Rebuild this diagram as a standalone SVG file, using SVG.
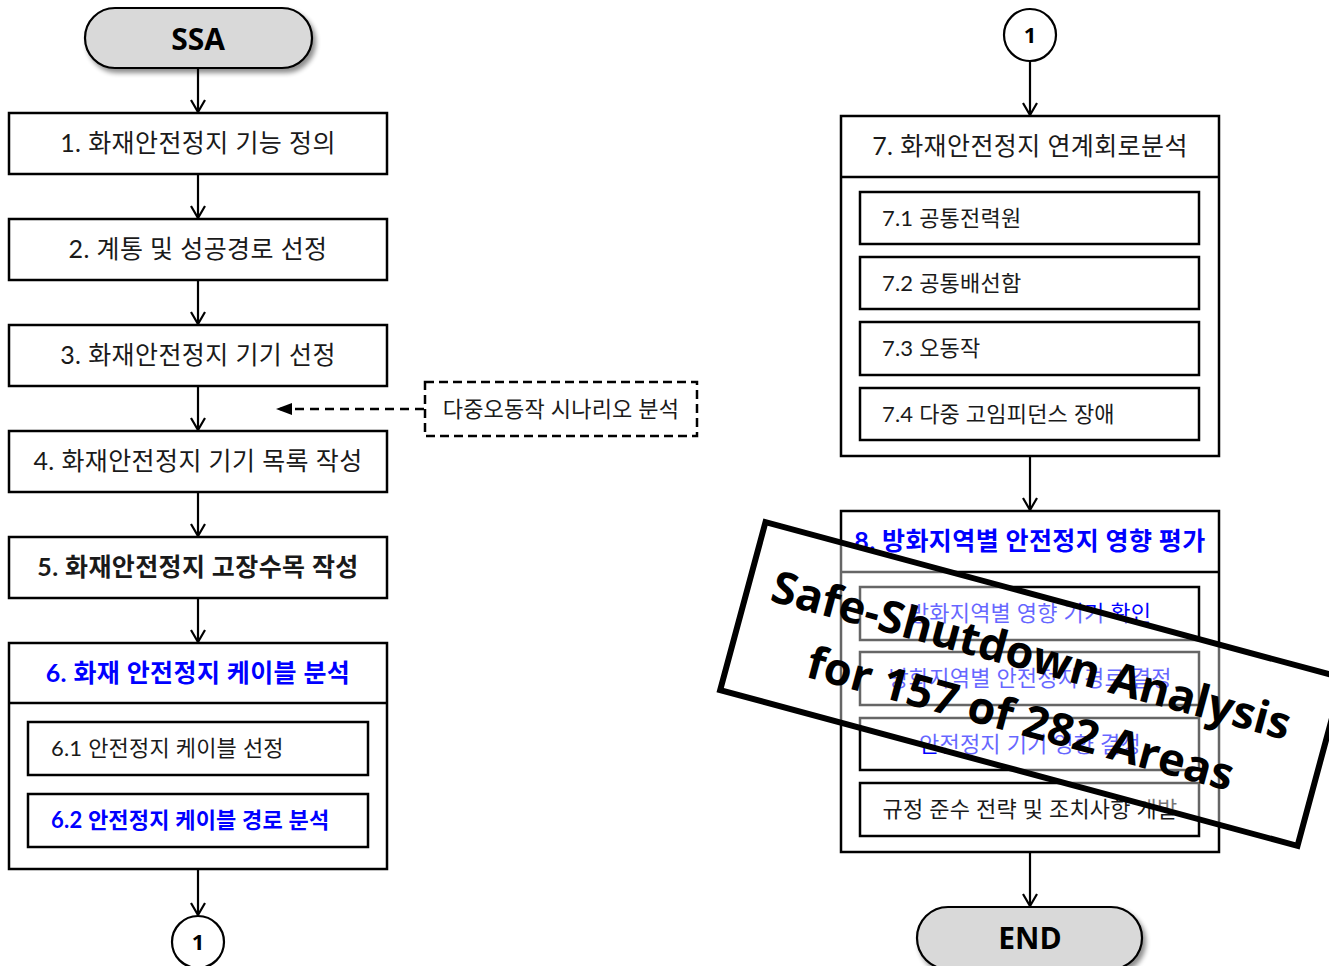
<svg xmlns="http://www.w3.org/2000/svg" width="1329" height="966" viewBox="0 0 1329 966">
<defs>
<marker id="ah" markerUnits="userSpaceOnUse" markerWidth="16" markerHeight="16" refX="8" refY="15" orient="0" viewBox="0 0 16 16">
<path d="M1,3 L8,15 L15,3" fill="none" stroke="#000" stroke-width="2.2"/>
</marker>
<marker id="tri" markerUnits="userSpaceOnUse" markerWidth="16" markerHeight="14" refX="1" refY="7" orient="0" viewBox="0 0 16 14">
<path d="M0,7 L16,1 L16,13 Z" fill="#000"/>
</marker>
<filter id="sh" x="-20%" y="-30%" width="150%" height="180%">
<feGaussianBlur in="SourceAlpha" stdDeviation="2.5"/>
<feOffset dx="3" dy="4" result="b"/>
<feComponentTransfer><feFuncA type="linear" slope="0.45"/></feComponentTransfer>
<feMerge><feMergeNode/><feMergeNode in="SourceGraphic"/></feMerge>
</filter>
</defs>
<style>
.box{fill:#fff;stroke:#000;stroke-width:2.5}
.pill{fill:#d9d9d9;stroke:#000;stroke-width:2.2}
.t{font-family:Lato,"Noto Sans CJK KR",sans-serif;fill:#1a1a1a}
.big{font-size:25px;letter-spacing:0.4px}
.sm{font-size:22px;letter-spacing:0.2px}
.b{font-weight:bold}
.blue{fill:#0000ff}
.c{text-anchor:middle}
.hv{font-family:"Open Sans",sans-serif;font-weight:bold;fill:#000;text-anchor:middle}
.con{stroke:#000;stroke-width:2.2;fill:none}
.stamp{font-family:"Open Sans",sans-serif;font-weight:bold;font-size:45px;fill:#000;text-anchor:middle}
</style>

<g id="ssa">
<rect class="pill" x="85" y="8" width="227" height="60" rx="30" filter="url(#sh)"/>
<text class="hv" x="198" y="50" font-size="30">SSA</text>
</g>
<g id="n1"><rect class="box" x="9" y="113" width="378" height="61"/><text class="t big c" x="198" y="152">1. 화재안전정지 기능 정의</text></g>
<g id="n2"><rect class="box" x="9" y="219" width="378" height="61"/><text class="t big c" x="198" y="258">2. 계통 및 성공경로 선정</text></g>
<g id="n3"><rect class="box" x="9" y="325" width="378" height="61"/><text class="t big c" x="198" y="364">3. 화재안전정지 기기 선정</text></g>
<g id="n4"><rect class="box" x="9" y="431" width="378" height="61"/><text class="t big c" x="198" y="470">4. 화재안전정지 기기 목록 작성</text></g>
<g id="n5"><rect class="box" x="9" y="537" width="378" height="61"/><text class="t big b c" x="198" y="576">5. 화재안전정지 고장수목 작성</text></g>
<g id="n6">
<rect class="box" x="9" y="643" width="378" height="226"/>
<line class="box" x1="9" y1="703" x2="387" y2="703"/>
<text class="t big b c blue" x="198" y="682">6. 화재 안전정지 케이블 분석</text>
<rect class="box" x="28" y="722" width="340" height="53"/>
<text class="t sm" x="51" y="756">6.1 안전정지 케이블 선정</text>
<rect class="box" x="28" y="794" width="340" height="53"/>
<text class="t sm b blue" x="51" y="828">6.2 안전정지 케이블 경로 분석</text>
</g>
<g id="c1a"><circle cx="198" cy="942" r="26" fill="#fff" stroke="#000" stroke-width="2.2"/><text class="hv" x="198" y="950" font-size="22">1</text></g>
<g id="ms">
<rect x="425" y="382" width="272" height="54" fill="#fff" stroke="#000" stroke-width="2.5" stroke-dasharray="9 5"/>
<text class="t sm c" x="561" y="417" letter-spacing="0.8">다중오동작 시나리오 분석</text>
</g>

<g id="c1b"><circle cx="1030" cy="35" r="26" fill="#fff" stroke="#000" stroke-width="2.2"/><text class="hv" x="1030" y="43" font-size="22">1</text></g>
<g id="n7">
<rect class="box" x="841" y="116" width="378" height="340"/>
<line class="box" x1="841" y1="177" x2="1219" y2="177"/>
<text class="t big c" x="1030" y="155">7. 화재안전정지 연계회로분석</text>
<rect class="box" x="860" y="192" width="339" height="52"/><text class="t sm" x="882" y="226">7.1 공통전력원</text>
<rect class="box" x="860" y="257" width="339" height="52"/><text class="t sm" x="882" y="291">7.2 공통배선함</text>
<rect class="box" x="860" y="322" width="339" height="53"/><text class="t sm" x="882" y="356">7.3 오동작</text>
<rect class="box" x="860" y="388" width="339" height="52"/><text class="t sm" x="882" y="422">7.4 다중 고임피던스 장애</text>
</g>
<g id="n8">
<rect class="box" x="841" y="511" width="378" height="341"/>
<line class="box" x1="841" y1="572" x2="1219" y2="572"/>
<text class="t big b c blue" x="1030" y="550">8. 방화지역별 안전정지 영향 평가</text>
<rect class="box" x="860" y="587" width="339" height="53"/><text class="t sm c blue" x="1030" y="621">방화지역별 영향 기기 확인</text>
<rect class="box" x="860" y="652" width="339" height="53"/><text class="t sm c blue" x="1030" y="686">방화지역별 안전정지 경로 결정</text>
<rect class="box" x="860" y="718" width="339" height="52"/><text class="t sm c blue" x="1030" y="752">안전정지 기기 영향 결정</text>
<rect class="box" x="860" y="783" width="339" height="53"/><text class="t sm c" x="1030" y="817">규정 준수 전략 및 조치사항 개발</text>
</g>
<g id="end">
<rect class="pill" x="917" y="907" width="225" height="62" rx="31" filter="url(#sh)"/>
<text class="hv" x="1030" y="949" font-size="30">END</text>
</g>

<g id="connectors">
<line class="con" x1="198" y1="68" x2="198" y2="112" marker-end="url(#ah)"/>
<line class="con" x1="198" y1="174" x2="198" y2="218" marker-end="url(#ah)"/>
<line class="con" x1="198" y1="280" x2="198" y2="324" marker-end="url(#ah)"/>
<line class="con" x1="198" y1="386" x2="198" y2="430" marker-end="url(#ah)"/>
<line class="con" x1="198" y1="492" x2="198" y2="536" marker-end="url(#ah)"/>
<line class="con" x1="198" y1="598" x2="198" y2="642" marker-end="url(#ah)"/>
<line class="con" x1="198" y1="869" x2="198" y2="915" marker-end="url(#ah)"/>
<line x1="424" y1="409" x2="277" y2="409" stroke="#000" stroke-width="2.5" stroke-dasharray="9 6" marker-end="url(#tri)"/>
<line class="con" x1="1030" y1="61" x2="1030" y2="115" marker-end="url(#ah)"/>
<line class="con" x1="1030" y1="456" x2="1030" y2="510" marker-end="url(#ah)"/>
<line class="con" x1="1030" y1="852" x2="1030" y2="906" marker-end="url(#ah)"/>
</g>

<g id="stamp" transform="rotate(15.1 1031.5 684)">
<rect x="732.5" y="597" width="598" height="174" fill="#fff" fill-opacity="0.4" stroke="#000" stroke-width="6"/>
<text class="stamp" x="1024" y="672">Safe-Shutdown Analysis</text>
<text class="stamp" x="1030" y="736">for 157 of 282 Areas</text>
</g>
</svg>
